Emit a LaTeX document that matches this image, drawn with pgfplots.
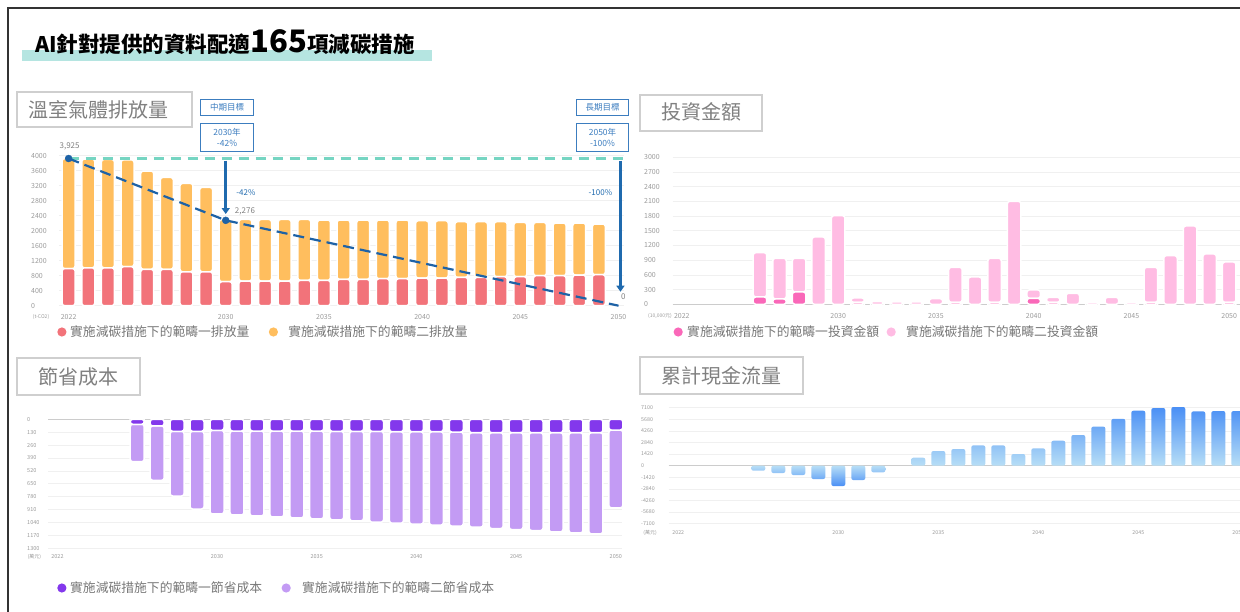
\documentclass[border=0pt]{standalone}
\usepackage{fontspec}
\setmainfont{Noto Sans CJK TC}
\usepackage{pgfplots}
\pgfplotsset{compat=1.18}
\usetikzlibrary{arrows.meta}

\definecolor{ghgred}{HTML}{F2737A}
\definecolor{ghgorg}{HTML}{FFBE5E}
\definecolor{tealdash}{HTML}{76D5C2}
\definecolor{bluedash}{HTML}{1E62A6}
\definecolor{arrowblue}{HTML}{1F6AAE}
\definecolor{boxblue}{HTML}{3C7DBF}
\definecolor{invdark}{HTML}{FA68B9}
\definecolor{invlight}{HTML}{FFBCE3}
\definecolor{savdark}{HTML}{8338EC}
\definecolor{savlight}{HTML}{C39BF4}
\definecolor{cfdark}{HTML}{4A8FF5}
\definecolor{cflight}{HTML}{B7DEF6}
\definecolor{gridc}{HTML}{F0F0F0}
\definecolor{zeroc}{HTML}{CCCCCC}
\definecolor{tickc}{HTML}{9A9A9A}
\definecolor{legc}{HTML}{777777}
\definecolor{titlec}{HTML}{808080}
\definecolor{boxc}{HTML}{CFCFCF}
\definecolor{hilite}{HTML}{B5E5E1}
\definecolor{framec}{HTML}{333333}

\pgfplotsset{
  panel/.style={
    scale only axis, anchor=south west, clip=false,
    axis line style={draw=none},
    major tick length=0pt,
    ymajorgrids, grid style={draw=gridc, line width=0.7pt},
    tick label style={text=tickc},
    /pgf/number format/assume math mode=true,
    /pgf/number format/1000 sep={},
    yticklabel style={anchor=west, inner sep=0pt},
    xticklabel style={anchor=center, inner sep=0pt},
    xtick={2022,2030,2035,2040,2045,2050},
    legend columns=2, legend cell align=left,
  },
  circleg/.style={legend image code/.code={\fill[##1,draw=none] (0pt,0pt) circle (4.6pt);}},
  seg/.style={draw=white, line width=1.5pt, rounded corners=2.5pt},
  zeroline/.style={extra y ticks={0}, extra y tick labels={},
    extra y tick style={grid style={draw=zeroc, line width=0.8pt}}},
  leg/.style={legend style={draw=none, fill=none, inner sep=0pt, anchor=west,
    text=legc, nodes={inner sep=0pt}, column sep=0pt}},
}

\begin{document}
\begin{tikzpicture}
\useasboundingbox (0,0) rectangle (1240pt,-612pt);

\begin{scope}[x=1pt,y=-1pt]
  \draw[framec, line width=1.8pt] (8,612) -- (8,8) -- (1240,8);
  \fill[hilite] (22,50) rectangle (432,61);
  \node[anchor=base west, inner sep=0pt, font=\fontsize{21.5}{24}\selectfont\bfseries] at (35,53)
    {AI針對提供的資料配適{\fontsize{31}{31}\selectfont 165}項減碳措施};
  % panel titles
  \draw[boxc, line width=2.8pt] (17,92) rectangle (192,127);
  \node[text=titlec, font=\fontsize{20}{22}\selectfont] at (98,110) {溫室氣體排放量};
  \draw[boxc, line width=2.8pt] (640,95) rectangle (762,131);
  \node[text=titlec, font=\fontsize{20}{22}\selectfont] at (701,112) {投資金額};
  \draw[boxc, line width=2.8pt] (17,358) rectangle (140,395);
  \node[text=titlec, font=\fontsize{20}{22}\selectfont] at (78.5,376.7) {節省成本};
  \draw[boxc, line width=2.8pt] (640,357) rectangle (803,394);
  \node[text=titlec, font=\fontsize{20}{22}\selectfont] at (721,375.7) {累計現金流量};
  % target boxes
  \tikzset{tbox/.style={draw=boxblue, line width=1pt, text=boxblue, minimum width=52.6pt,
    inner sep=0pt, align=center, font=\fontsize{8.5}{11}\selectfont}}
  \node[tbox, minimum height=15.7pt] at (227,107.2) {中期目標};
  \node[tbox, minimum height=28.4pt] at (227,137.5) {2030年\\-42\%};
  \node[tbox, minimum height=15.7pt] at (602.5,107.2) {長期目標};
  \node[tbox, minimum height=28.4pt] at (602.5,137.5) {2050年\\-100\%};
  % unit labels
  \tikzset{unit/.style={text=tickc, inner sep=0pt, font=\fontsize{5}{6}\selectfont}}
  \node[unit] at (41,317.3) {(t-CO2)};
  \node[unit] at (660,316) {(10,000元)};
  \node[unit] at (34.5,557) {(萬元)};
  \node[unit] at (650,533) {(萬元)};
\end{scope}

% ---------- GHG emissions ----------
\begin{axis}[panel, at={(58.8pt,-305.7pt)}, width=565.6pt, height=150pt,
  xmin=2021.5, xmax=2050.3, ymin=0, ymax=4000, ytick={0,400,...,4000},
  ybar stacked, bar width=13pt, circleg,
  tick label style={font=\fontsize{7}{8}\selectfont},
  yticklabel style={xshift=-27.8pt}, xticklabel style={yshift=-11.6pt},
  leg, legend style={at={(-0.003,-0.1753)}, font=\fontsize{12.8}{14}\selectfont}]
\addplot[seg, fill=ghgred, circleg] coordinates {
(2022,990)(2023,1010)(2024,1010)(2025,1040)(2026,970)(2027,970)(2028,905)(2029,905)
(2030,640)(2031,658)(2032,658)(2033,658)(2034,676)(2035,676)(2036,702)(2037,702)
(2038,720)(2039,720)(2040,738)(2041,738)(2042,756)(2043,756)(2044,773)(2045,773)
(2046,800)(2047,800)(2048,818)(2049,827)};
\addplot[seg, fill=ghgorg, circleg] coordinates {
(2022,2935)(2023,2900)(2024,2890)(2025,2850)(2026,2620)(2027,2450)(2028,2355)(2029,2250)
(2030,1660)(2031,1642)(2032,1642)(2033,1642)(2034,1624)(2035,1609)(2036,1583)(2037,1583)
(2038,1565)(2039,1565)(2040,1529)(2041,1529)(2042,1484)(2043,1484)(2044,1467)(2045,1449)
(2046,1422)(2047,1404)(2048,1386)(2049,1351)};
\legend{\hspace{3.7pt}實施減碳措施下的範疇一排放量\rule{19.4pt}{0pt}, \hspace{10.4pt}實施減碳措施下的範疇二排放量}
\end{axis}

\begin{axis}[panel, at={(58.8pt,-305.7pt)}, width=565.6pt, height=150pt,
  xmin=2021.5, xmax=2050.3, ymin=0, ymax=4000, hide axis]
\addplot[tealdash, line width=2.2pt, dash pattern=on 10pt off 7pt] coordinates {(2022,3925) (2050.3,3925)};
\addplot[bluedash, line width=2.2pt, dash pattern=on 11pt off 6pt] coordinates {(2022,3925) (2030,2276) (2050,0)};
\addplot[only marks, mark=*, mark size=3.5pt, mark options={fill=bluedash, draw=bluedash}] coordinates {(2022,3925) (2030,2276)};
\draw[arrowblue, line width=3pt, -{Triangle[width=8pt,length=6pt]}] (axis cs:2030,3867) -- (axis cs:2030,2445);
\draw[arrowblue, line width=3pt, -{Triangle[width=8pt,length=6pt]}] (axis cs:2050.1,3867) -- (axis cs:2050.1,373);
\node[text=titlec, font=\fontsize{8}{9}\selectfont] at (axis cs:2022.05,4240) {3,925};
\node[text=titlec, font=\fontsize{8}{9}\selectfont] at (axis cs:2030.98,2525) {2,276};
\node[text=titlec, font=\fontsize{8}{9}\selectfont] at (axis cs:2050.24,240) {0};
\node[text=arrowblue, font=\fontsize{8}{9}\selectfont] at (axis cs:2031.03,3013) {-42\%};
\node[text=arrowblue, font=\fontsize{8}{9}\selectfont] at (axis cs:2049.08,3013) {-100\%};
\end{axis}

% ---------- Investment ----------
\begin{axis}[panel, at={(672.6pt,-304.3pt)}, width=567.3pt, height=147pt,
  xmin=2021.53, xmax=2050.55, ymin=0, ymax=3000, ytick={0,300,...,3000}, zeroline,
  ybar stacked, bar width=13.5pt, circleg,
  tick label style={font=\fontsize{7}{8}\selectfont},
  yticklabel style={xshift=-28.6pt}, xticklabel style={yshift=-11.7pt},
  leg, legend style={at={(0.0014,-0.1884)}, font=\fontsize{12.8}{14}\selectfont}]
\addplot[seg, fill=invdark, circleg] coordinates {
(2026,150)(2027,109)(2028,252)(2029,0)(2030,0)(2031,40)(2032,0)(2033,0)(2034,0)(2035,0)
(2036,40)(2037,0)(2038,40)(2039,0)(2040,122)(2041,40)(2042,0)(2043,0)(2044,0)(2045,0)
(2046,40)(2047,0)(2048,0)(2049,0)(2050,40)};
\addplot[seg, fill=invlight, circleg] coordinates {
(2026,904)(2027,830)(2028,687)(2029,1374)(2030,1810)(2031,89)(2032,54)(2033,50)(2034,50)
(2035,116)(2036,715)(2037,558)(2038,899)(2039,2102)(2040,171)(2041,103)(2042,224)(2043,40)
(2044,143)(2045,40)(2046,715)(2047,993)(2048,1599)(2049,1027)(2050,824)};
\legend{\hspace{4.4pt}實施減碳措施下的範疇一投資金額\rule{7.4pt}{0pt}, \hspace{10.4pt}實施減碳措施下的範疇二投資金額}
\end{axis}

% ---------- Cost savings ----------
\begin{axis}[panel, anchor=north west, at={(48.3pt,-419.3pt)}, width=573.7pt, height=129pt,
  xmin=2021.54, xmax=2050.31, ymin=0, ymax=1300, y dir=reverse,
  ytick={0,130,260,390,520,650,780,910,1040,1170,1300}, zeroline,
  ybar stacked, bar width=14pt, circleg,
  tick label style={font=\fontsize{5.5}{6}\selectfont},
  yticklabel style={xshift=-21.3pt}, xticklabel style={yshift=-8.7pt},
  leg, legend style={at={(0.0153,-0.3078)}, font=\fontsize{12.8}{14}\selectfont}]
\addplot[seg, fill=savdark, circleg] coordinates {
(2026,50)(2027,67)(2028,121)(2029,121)(2030,111)(2031,118)(2032,118)(2033,118)(2034,118)
(2035,118)(2036,121)(2037,121)(2038,121)(2039,125)(2040,125)(2041,125)(2042,128)(2043,135)
(2044,135)(2045,135)(2046,135)(2047,135)(2048,135)(2049,135)(2050,108)};
\addplot[seg, fill=savlight, circleg] coordinates {
(2026,377)(2027,548)(2028,652)(2029,783)(2030,843)(2031,846)(2032,856)(2033,866)(2034,876)
(2035,885)(2036,892)(2037,902)(2038,916)(2039,922)(2040,932)(2041,942)(2042,949)(2043,952)
(2044,966)(2045,976)(2046,986)(2047,1000)(2048,1010)(2049,1020)(2050,784)};
\legend{\hspace{3.7pt}實施減碳措施下的範疇一節省成本\rule{19.4pt}{0pt}, \hspace{11.4pt}實施減碳措施下的範疇二節省成本}
\end{axis}

% ---------- Cumulative cash flow ----------
\begin{axis}[panel, at={(668.7pt,-523.7pt)}, width=581.6pt, height=116pt,
  xmin=2021.52, xmax=2050.6, ymin=-7100, ymax=7100,
  ytick={-7100,-5680,-4260,-2840,-1420,0,1420,2840,4260,5680,7100}, zeroline,
  ybar, bar width=14pt,
  tick label style={font=\fontsize{5.3}{6}\selectfont},
  yticklabel style={xshift=-27.7pt}, xticklabel style={yshift=-9.3pt}]
\addplot[draw=none, bar shift=0pt, top color=cfdark, bottom color=cflight, rounded corners=2pt] coordinates {
(2034,979)(2035,1795)(2036,2040)(2037,2489)(2038,2489)(2039,1428)(2040,2122)(2041,3055)
(2042,3756)(2043,4788)(2044,5738)(2045,6729)(2046,7059)(2047,7183)(2048,6646)(2049,6687)(2050,6687)};
\addplot[draw=none, bar shift=0pt, top color=cflight, bottom color=cfdark, rounded corners=2pt] coordinates {
(2026,-612)(2027,-898)(2028,-1142)(2029,-1632)(2030,-2489)(2031,-1754)(2032,-816)};
\end{axis}
\end{tikzpicture}
\end{document}
